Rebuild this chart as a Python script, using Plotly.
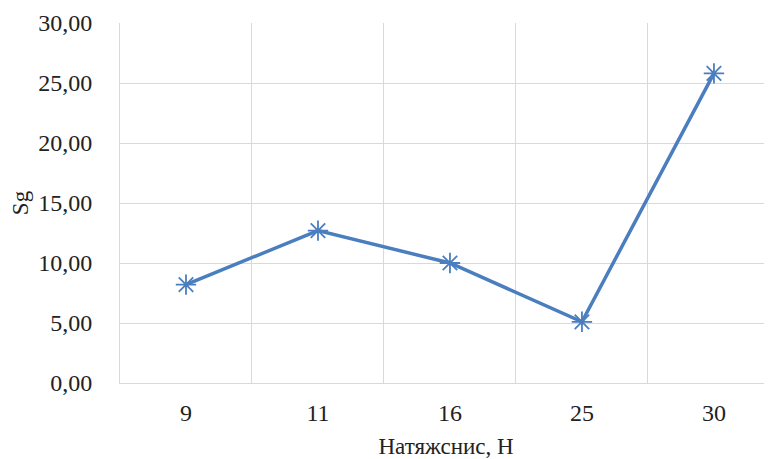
import plotly.graph_objects as go

categories = ["9", "11", "16", "25", "30"]
sg_values = [8.2, 12.7, 10.0, 5.1, 25.8]
y_ticks = [0, 5, 10, 15, 20, 25, 30]
y_tick_labels = ["0,00", "5,00", "10,00", "15,00", "20,00", "25,00", "30,00"]

font_family = "Liberation Serif"
line_color = "#4a7ebf"
grid_color = "#d9d9d9"
text_color = "#222222"

fig = go.Figure()
fig.add_trace(go.Scatter(
    x=categories, y=sg_values, mode="lines+markers",
    line=dict(color=line_color, width=3.5),
    marker=dict(symbol="asterisk-open", size=17, color=line_color,
                line=dict(color=line_color, width=1.8)),
    showlegend=False, cliponaxis=False,
))

# page body has an 8px margin, so the figure is sized/offset accordingly
fig.update_layout(
    width=764, height=451,
    margin=dict(l=112, r=0, t=15, b=76),
    paper_bgcolor="white", plot_bgcolor="white",
    font=dict(family=font_family, size=24, color=text_color),
    xaxis=dict(
        type="category", range=[-0.5, 4.44], tickson="boundaries",
        showgrid=True, gridcolor=grid_color, gridwidth=1,
        showline=True, linecolor=grid_color, linewidth=1,
        ticks="", ticklabelstandoff=8, automargin=False,
        tickfont=dict(family=font_family, size=24, color=text_color),
        title=dict(text="Натяжснис, Н", standoff=20,
                   font=dict(family=font_family, size=23, color=text_color)),
        zeroline=False,
    ),
    yaxis=dict(
        range=[0, 30], tickvals=y_ticks, ticktext=y_tick_labels,
        showgrid=True, gridcolor=grid_color, gridwidth=1,
        showline=True, linecolor=grid_color, linewidth=1,
        ticks="", ticklabelstandoff=22, zeroline=False, automargin=False,
        tickfont=dict(family=font_family, size=24, color=text_color),
        title=dict(text="Sg", standoff=6,
                   font=dict(family=font_family, size=23, color=text_color)),
    ),
)

fig.write_html("out.html")
